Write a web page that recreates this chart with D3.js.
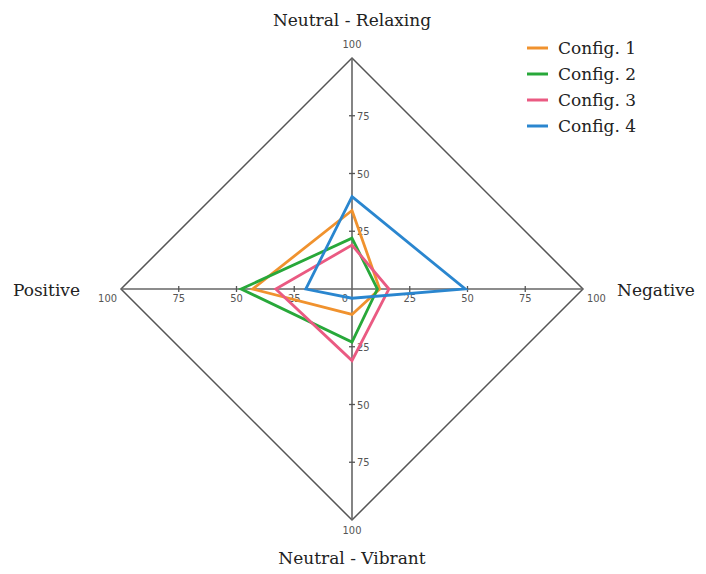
<!DOCTYPE html>
<html>
<head>
<meta charset="utf-8">
<script src="https://cdn.jsdelivr.net/npm/d3@7"></script>
<style>
  html, body { margin: 0; padding: 0; background: #fff; }
  svg { display: block; }
</style>
</head>
<body>
<svg id="chart" width="706" height="574"></svg>
<script>
// Axes in clockwise order starting at top
const axes = ["Neutral - Relaxing", "Negative", "Neutral - Vibrant", "Positive"];
const series = ["Config. 1", "Config. 2", "Config. 3", "Config. 4"];
const config1 = [34, 12, 11, 43];
const config2 = [22, 11, 23, 48];
const config3 = [19, 16, 31, 33];
const config4 = [40, 49, 4, 20];
const tickValues = [25, 50, 75, 100];
const colors = ["#f0922e", "#28a83a", "#ea5a82", "#2a86cf"];

const data = [config1, config2, config3, config4];

const svg = d3.select("#chart");
const cx = 352, cy = 289, R = 231;
const r = d3.scaleLinear().domain([0, 100]).range([0, R]);
const angle = d3.scalePoint().domain(axes.concat(["__end"])).range([0, 2 * Math.PI]);

const g = svg.append("g").attr("transform", `translate(${cx},${cy})`);

const pt = (a, v) => {
  const t = angle(a);
  return [Math.sin(t) * r(v), -Math.cos(t) * r(v)];
};

// outer frame
const radial = d3.lineRadial()
  .angle((d, i) => angle(axes[i]))
  .radius(d => r(d))
  .curve(d3.curveLinearClosed);

g.append("path")
  .attr("d", radial(axes.map(() => 100)))
  .attr("fill", "none")
  .attr("stroke", "#555")
  .attr("stroke-width", 1.5);

// axis lines
axes.forEach(a => {
  const p = pt(a, 100);
  g.append("line").attr("x1", 0).attr("y1", 0).attr("x2", p[0]).attr("y2", p[1])
    .attr("stroke", "#666").attr("stroke-width", 1.6);
});

// ticks and labels
const tickFont = "'Liberation Sans Narrow', 'DejaVu Sans Condensed', sans-serif";
axes.forEach((a, ai) => {
  tickValues.forEach(v => {
    const p = pt(a, v);
    const vertical = (ai % 2 === 0);
    if (v < 100) {
      if (vertical) {
        g.append("line").attr("x1", p[0] - 3).attr("x2", p[0] + 3).attr("y1", p[1]).attr("y2", p[1])
          .attr("stroke", "#555").attr("stroke-width", 1.3);
      } else {
        g.append("line").attr("x1", p[0]).attr("x2", p[0]).attr("y1", p[1] - 3).attr("y2", p[1] + 3)
          .attr("stroke", "#555").attr("stroke-width", 1.3);
      }
    }
    let tx, ty, anchor = "middle";
    if (v === 100) {
      if (ai === 0) { tx = p[0]; ty = p[1] - 10; }
      else if (ai === 2) { tx = p[0]; ty = p[1] + 14; }
      else if (ai === 1) { tx = p[0] + 4; ty = p[1] + 13; anchor = "start"; }
      else { tx = p[0] - 4; ty = p[1] + 13; anchor = "end"; }
    } else if (vertical) {
      tx = p[0] + 5; ty = p[1] + 4; anchor = "start";
    } else {
      tx = p[0]; ty = p[1] + 13;
    }
    g.append("text").attr("x", tx).attr("y", ty).attr("text-anchor", anchor)
      .attr("font-family", tickFont).attr("font-size", 11).attr("fill", "#555")
      .text(v);
  });
});
g.append("text").attr("x", -7).attr("y", 13).attr("text-anchor", "middle")
  .attr("font-family", tickFont).attr("font-size", 11).attr("fill", "#555").text(0);

// series polygons
data.forEach((vals, i) => {
  g.append("path")
    .attr("d", radial(vals))
    .attr("fill", "none")
    .attr("stroke", colors[i])
    .attr("stroke-width", 2.8)
    .attr("stroke-linejoin", "miter");
});

// axis titles
const titleFont = "'DejaVu Serif', serif";
const titlePos = [
  { x: 0, y: -263, anchor: "middle" },
  { x: 265, y: 7, anchor: "start" },
  { x: 0, y: 275, anchor: "middle" },
  { x: -272, y: 7, anchor: "end" }
];
axes.forEach((a, i) => {
  g.append("text").attr("x", titlePos[i].x).attr("y", titlePos[i].y)
    .attr("text-anchor", titlePos[i].anchor)
    .attr("font-family", titleFont).attr("font-size", 17).attr("fill", "#222")
    .text(a);
});

// legend
const legend = svg.append("g").attr("transform", "translate(527,48)");
series.forEach((s, i) => {
  const row = legend.append("g").attr("transform", `translate(0,${i * 26})`);
  row.append("line").attr("x1", 0).attr("x2", 21).attr("y1", 0).attr("y2", 0)
    .attr("stroke", colors[i]).attr("stroke-width", 3);
  row.append("text").attr("x", 31).attr("y", 6)
    .attr("font-family", titleFont).attr("font-size", 17).attr("fill", "#222")
    .text(s);
});
</script>
</body>
</html>
